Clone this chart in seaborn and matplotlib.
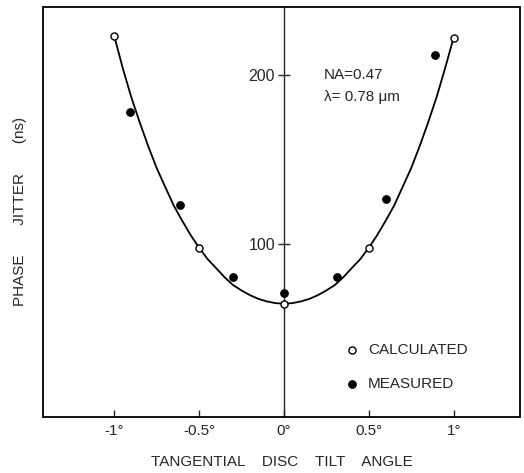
import matplotlib.pyplot as plt
import seaborn as sns
import pandas as pd

# calculated points (open circles)
calc_x = [-1.0, -0.5, 0.0, 0.5, 1.0]
calc_y = [223, 98, 65, 98, 222]

# measured points (filled circles)
meas_x = [-0.91, -0.61, -0.30, 0.0, 0.31, 0.60, 0.89]
meas_y = [178, 123, 81, 71, 81, 127, 212]

# fitted curve
curve_x = [-1.0, -0.95, -0.9, -0.85, -0.8, -0.75, -0.7, -0.65, -0.6, -0.55, -0.5, -0.45,
           -0.4, -0.35, -0.3, -0.25, -0.2, -0.15, -0.1, -0.05,
           0.0, 0.05, 0.1, 0.15, 0.2, 0.25, 0.3, 0.35, 0.4, 0.45,
           0.5, 0.55, 0.6, 0.65, 0.7, 0.75, 0.8, 0.85, 0.9, 0.95, 1.0]
curve_y = [223, 204, 187, 172, 158, 145, 134, 123, 114, 105.5, 98, 91.3,
           86, 80.6, 76, 72.8, 70, 67.8, 66.3, 65.3,
           65, 65.3, 66.3, 67.8, 70, 72.8, 76, 80.6, 86, 91.3,
           98, 105.5, 114, 123, 134, 145, 158, 172, 187, 204, 222]

xticks = [-1, -0.5, 0, 0.5, 1]
xticklabels = ["-1°", "-0.5°", "0°", "0.5°", "1°"]
yticks = [100, 200]

sns.set_style("white")
plt.rcParams["font.family"] = ["Liberation Sans", "DejaVu Sans"]

fig = plt.figure(figsize=(5.24, 4.73), dpi=100)
ax = fig.add_axes([0.082, 0.118, 0.910, 0.867])

curve = pd.DataFrame({"x": curve_x, "y": curve_y})
sns.lineplot(data=curve, x="x", y="y", color="black", lw=1.3, sort=False, ax=ax)
sns.scatterplot(x=meas_x, y=meas_y, color="black", s=30, edgecolor="black",
                linewidth=0.8, zorder=3, ax=ax, label="MEASURED")
sns.scatterplot(x=calc_x, y=calc_y, color="white", s=26, edgecolor="black",
                linewidth=1.0, zorder=4, ax=ax, label="CALCULATED")

ax.set_xlim(-1.42, 1.39)
ax.set_ylim(-2, 240)

# y axis through x=0, frame drawn around the axes
ax.spines["left"].set_position(("data", 0))
for s in ["right", "top", "bottom"]:
    ax.spines[s].set_visible(False)
ax.spines["left"].set_linewidth(1.0)
ax.add_patch(plt.Rectangle((0, 0), 1, 1, transform=ax.transAxes, fill=False,
                           lw=1.3, edgecolor="black", clip_on=False, zorder=5))

ax.set_xticks(xticks)
ax.set_xticklabels(xticklabels)
ax.set_yticks(yticks)
ax.tick_params(axis="x", direction="in", length=5, width=1, pad=5, labelsize=11, bottom=True)
ax.tick_params(axis="y", direction="inout", length=9, width=1, pad=2, labelsize=11.5, left=True)

ax.set_xlabel("TANGENTIAL    DISC    TILT    ANGLE", fontsize=11, labelpad=12)
ax.set_ylabel("")
fig.text(0.038, 0.552, "PHASE       JITTER       (ns)", rotation=90, fontsize=11,
         ha="center", va="center")

ax.text(0.235, 200, "NA=0.47", fontsize=11, va="center")
ax.text(0.235, 187, "λ= 0.78 μm", fontsize=11, va="center")

handles, labels = ax.get_legend_handles_labels()
ax.legend(handles[::-1], labels[::-1], loc="lower left", bbox_to_anchor=(0.6, 0.03),
          frameon=False, fontsize=11, labelspacing=1.3, handletextpad=0.45,
          handlelength=1.2)

fig.savefig("out.png", dpi=100)
